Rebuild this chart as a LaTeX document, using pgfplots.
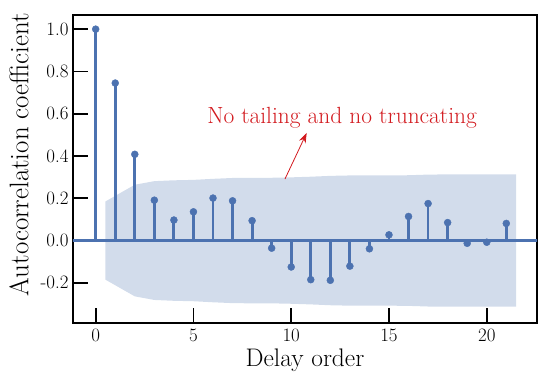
\documentclass[border=0pt]{standalone}
\usepackage{fontspec}
\usepackage{pgfplots}
\pgfplotsset{compat=1.18}
\usetikzlibrary{arrows.meta}
\definecolor{stem}{HTML}{4C72B0}
\definecolor{band}{HTML}{D2DCEB}
\definecolor{note}{RGB}{210,25,30}

\begin{document}
\begin{tikzpicture}
% fix the page to the reference's margins round the axis box
\path[use as bounding box] (-73bp,-60bp) rectangle (477bp,323bp);
\begin{axis}[
  at={(0,0)}, anchor=south west,
  scale only axis,
  width=464bp, height=308bp,
  xmin=-1.16, xmax=22.57,
  ymin=-0.39, ymax=1.067,
  axis line style={line width=1.6bp, black},
  tick align=inside,
  tick pos=left,
  major tick length=15bp,
  tick style={line width=1.8bp, black},
  xtick={0,5,10,15,20},
  xticklabels={0,5,10,15,20},
  ytick={-0.2,0,0.2,0.4,0.6,0.8,1.0},
  yticklabels={-0.2,0.0,0.2,0.4,0.6,0.8,1.0},
  tick label style={font=\fontsize{19}{21}\selectfont},
  xticklabel style={yshift=-2bp},
  yticklabel style={xshift=-1bp},
  xlabel={Delay order},
  ylabel={Autocorrelation coefficient},
  xlabel style={font=\fontsize{25.5}{28}\selectfont,
    at={([yshift=-43.7bp]rel axis cs:0.5,0)}, anchor=base},
  ylabel style={font=\fontsize{27}{30}\selectfont,
    at={([xshift=-54bp]rel axis cs:0,0.547)}, anchor=center},
]
% confidence band
\addplot[fill=band, draw=none] coordinates {
  (0.5,0.185) (2,0.264) (3,0.281) (4,0.285) (5,0.287) (6,0.292) (7,0.296)
  (8,0.297) (9,0.297) (10,0.299) (11,0.302) (12,0.306) (13,0.308) (14,0.308)
  (15,0.308) (16,0.309) (17,0.312) (18,0.313) (19,0.313) (20,0.313) (21.5,0.313)
  (21.5,-0.313) (20,-0.313) (19,-0.313) (18,-0.313) (17,-0.312) (16,-0.309)
  (15,-0.308) (14,-0.308) (13,-0.308) (12,-0.306) (11,-0.302) (10,-0.299)
  (9,-0.297) (8,-0.297) (7,-0.296) (6,-0.292) (5,-0.287) (4,-0.285) (3,-0.281)
  (2,-0.264) (0.5,-0.185)
} -- cycle;
% zero line
\addplot[stem, line width=2.6bp] coordinates {(-2,0) (24,0)};
% ACF stems
\addplot[ycomb, stem, line width=2.8bp, mark=*, mark size=3.5bp,
  mark options={fill=stem, line width=0.4bp}] table {
lag acf
0 1.0
1 0.745
2 0.408
3 0.191
4 0.097
5 0.136
6 0.201
7 0.188
8 0.094
9 -0.036
10 -0.125
11 -0.185
12 -0.188
13 -0.121
14 -0.039
15 0.027
16 0.114
17 0.175
18 0.085
19 -0.013
20 -0.008
21 0.081
};
\node[note, font=\fontsize{23.5}{26}\selectfont, anchor=base]
  at (axis cs:12.6,0.556) {No tailing and no truncating};
\draw[note, line width=0.8bp, -{Stealth[length=10bp,width=7bp]}]
  (axis cs:9.68,0.291) -- (axis cs:10.79,0.509);
\end{axis}
\end{tikzpicture}
\end{document}
